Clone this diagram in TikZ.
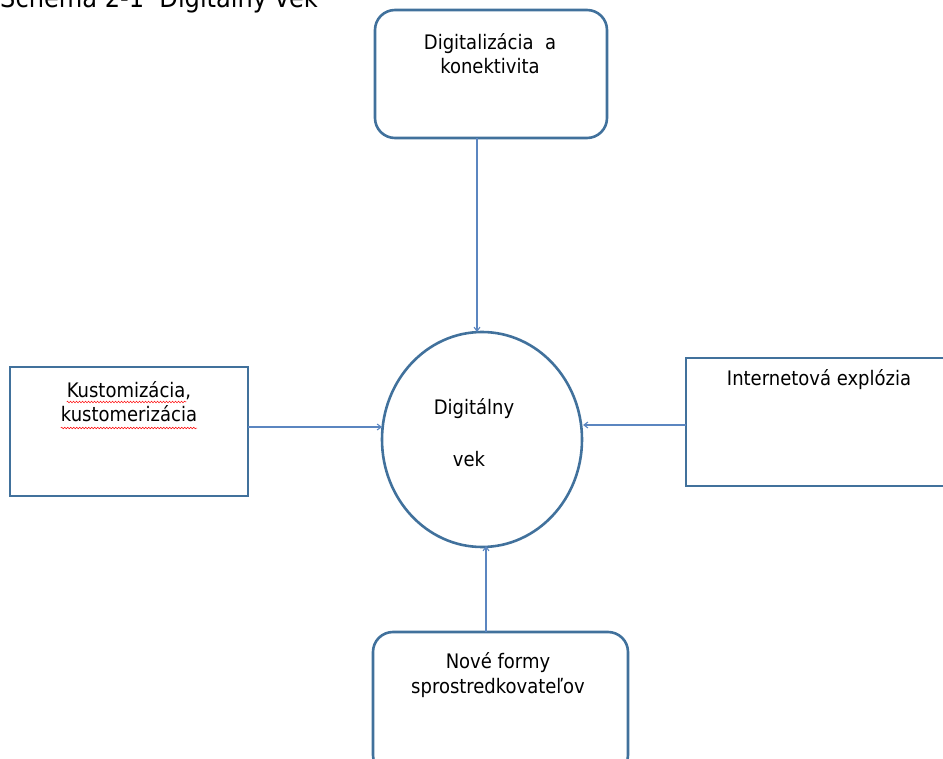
\documentclass[tikz,border=0pt]{standalone}
\usepackage{fontspec}
\setmainfont{DejaVu Sans Condensed}
\usetikzlibrary{arrows.meta,shapes.geometric,decorations.pathmorphing}
\definecolor{boxblue}{HTML}{41719C}
\definecolor{lineblue}{HTML}{5B86C0}
\tikzset{
  boxline/.style={draw=boxblue, line width=2.6pt},
  rbox/.style={boxline, rounded corners=20pt},
  conn/.style={draw=lineblue, line width=1.1pt, -{Straight Barb[length=4pt,width=6pt]}},
  lbl/.style={font=\fontsize{20}{24}\selectfont, inner sep=0pt, anchor=base, text=black},
  spell/.style={draw=red, line width=0.5pt, decorate, decoration={snake, amplitude=0.8pt, segment length=3pt}}
}
\begin{document}
\begin{tikzpicture}[x=1pt,y=-1pt]
\useasboundingbox (0,0) rectangle (943,759);
\begin{scope}
\clip (0,0) rectangle (943,759);
% title (cut off at top)
\node[font=\fontsize{26.8}{30}\selectfont, inner sep=0pt, anchor=base west] (title) at (0,8) {Schéma 2-1\ \ Digitálny vek};
% boxes
\path[rbox] (375,10) rectangle (607,138);
\node (top) at (491,74) [minimum width=232pt, minimum height=128pt] {};
\path[rbox] (373,632) rectangle (628,775);
\node (bot) at (500,703) [minimum width=255pt, minimum height=143pt] {};
\path[boxline] (10,367) rectangle (248,496);
\node (left) at (129,431) [minimum width=238pt, minimum height=129pt] {};
\path[boxline] (686,358) rectangle (960,486);
\node (right) at (823,422) [minimum width=274pt, minimum height=128pt] {};
% circle
\node[draw=boxblue, line width=2.6pt, ellipse, minimum width=200pt, minimum height=215pt, inner sep=0pt] (c) at (482,439.5) {};
% texts
\node[lbl] (t1) at (490,50) {Digitalizácia\ \ a};
\node[lbl] (t2) at (490,74) {konektivita};
\node[lbl] (k1) at (129,398) {Kustomizácia,};
\node[lbl] (k2) at (129,421) {kustomerizácia};
\node[lbl] (i1) at (819,386) {Internetová explózia};
\node[lbl] (n1) at (498,668) {Nové formy};
\node[lbl] (n2) at (498,693) {sprostredkovateľov};
\node[lbl] (d1) at (474,414) {Digitálny};
\node[lbl] (d2) at (469,466) {vek};
% spell-check squiggles
\draw[spell] ([yshift=-4pt]k1.base west) -- ([xshift=-5pt,yshift=-4pt]k1.base east);
\draw[spell] ([yshift=-7pt]k2.base west) -- ([yshift=-7pt]k2.base east);
% connectors
\coordinate (ctop) at (477,138);
\coordinate (ctopend) at (477,332);
\draw[conn] (ctop) -- (ctopend);
\coordinate (cl) at (248,427);
\coordinate (clend) at (382,427);
\draw[conn] (cl) -- (clend);
\coordinate (cr) at (686,425);
\coordinate (crend) at (583,425);
\draw[conn] (cr) -- (crend);
\coordinate (cb) at (486,632);
\coordinate (cbend) at (486,546);
\draw[conn] (cb) -- (cbend);
\end{scope}
\end{tikzpicture}
\end{document}
